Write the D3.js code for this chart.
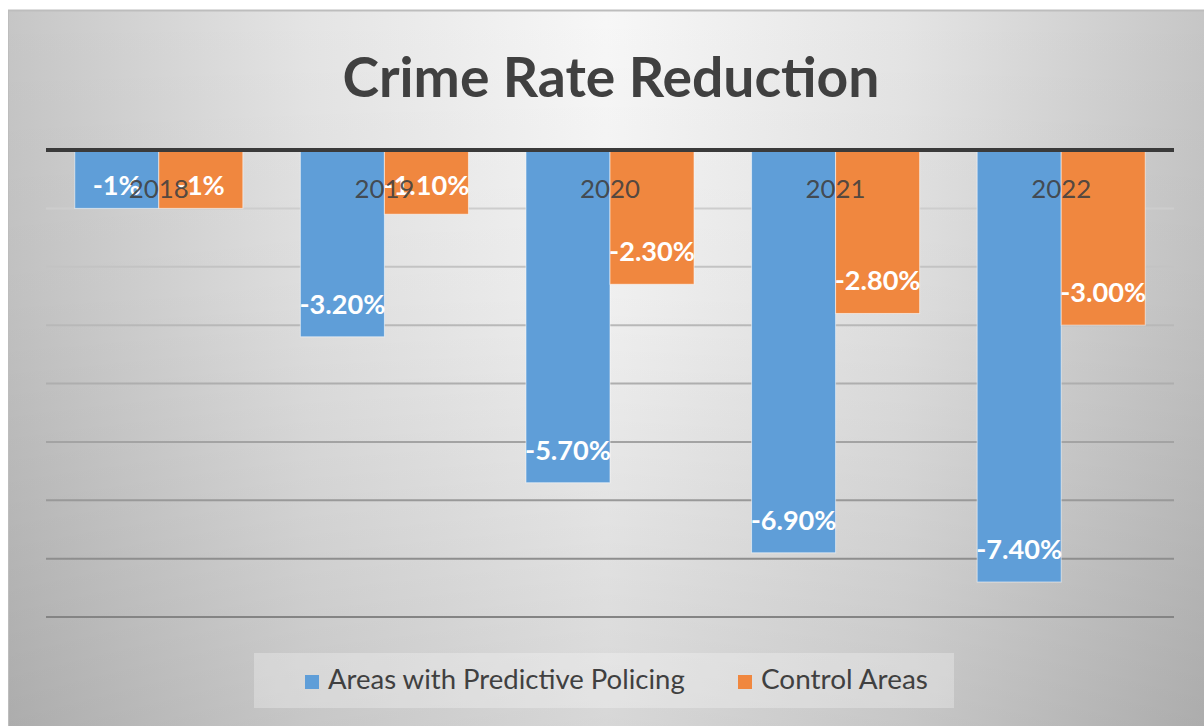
<!DOCTYPE html>
<html>
<head>
<meta charset="utf-8">
<script src="https://cdn.jsdelivr.net/npm/d3@7"></script>
<style>
  html, body { margin: 0; padding: 0; background: #fff; }
  svg { display: block; }
</style>
</head>
<body>
<svg id="chart" width="1204" height="726"></svg>
<script>
var years = ['2018', '2019', '2020', '2021', '2022'];
var seriesNames = ['Areas with Predictive Policing', 'Control Areas'];
var predictive = [-1, -3.2, -5.7, -6.9, -7.4];
var control = [-1, -1.1, -2.3, -2.8, -3.0];
var labelsPredictive = ['-1%', '-3.20%', '-5.70%', '-6.90%', '-7.40%'];
var labelsControl = ['-1%', '-1.10%', '-2.30%', '-2.80%', '-3.00%'];
var yTicks = [0, -1, -2, -3, -4, -5, -6, -7, -8];

var colors = ['#5f9ed8', '#f0873f'];
var textColor = '#404040';

var svg = d3.select('#chart');
var W = 1204, H = 726;

// fit a text node to a width by changing font-size
function fitWidth(sel, target) {
  sel.each(function() {
    var node = this;
    var fs = parseFloat(d3.select(node).style('font-size'));
    var w = node.getComputedTextLength();
    if (w > 0) d3.select(node).style('font-size', (fs * target / w) + 'px');
  });
}

var defs = svg.append('defs');
var hg = defs.append('linearGradient').attr('id', 'bgH')
  .attr('x1', '0').attr('x2', '1').attr('y1', '0').attr('y2', '0');
hg.append('stop').attr('offset', '0').attr('stop-color', '#c6c6c6');
hg.append('stop').attr('offset', '0.25').attr('stop-color', '#e4e4e4');
hg.append('stop').attr('offset', '0.5').attr('stop-color', '#f7f7f7');
hg.append('stop').attr('offset', '0.75').attr('stop-color', '#e4e4e4');
hg.append('stop').attr('offset', '1').attr('stop-color', '#c6c6c6');
var vg = defs.append('linearGradient').attr('id', 'bgV')
  .attr('x1', '0').attr('x2', '0').attr('y1', '0').attr('y2', '1');
vg.append('stop').attr('offset', '0').attr('stop-color', '#000').attr('stop-opacity', 0);
vg.append('stop').attr('offset', '0.4').attr('stop-color', '#000').attr('stop-opacity', 0.03);
vg.append('stop').attr('offset', '1').attr('stop-color', '#000').attr('stop-opacity', 0.13);

svg.append('rect').attr('x', 8).attr('y', 10).attr('width', W - 8).attr('height', H - 10)
  .attr('fill', 'url(#bgH)');
svg.append('rect').attr('x', 8).attr('y', 10).attr('width', W - 8).attr('height', H - 10)
  .attr('fill', 'url(#bgV)');
svg.append('line').attr('x1', 8).attr('x2', W).attr('y1', 10.5).attr('y2', 10.5)
  .attr('stroke', '#bdbdbd').attr('stroke-width', 2);
svg.append('line').attr('x1', 8.5).attr('x2', 8.5).attr('y1', 10).attr('y2', H)
  .attr('stroke', '#bdbdbd').attr('stroke-width', 1);

var x0 = d3.scaleBand().domain(years).range([46, 1174])
  .paddingInner(0.255).paddingOuter(0.1275);
var x1 = d3.scaleBand().domain([0, 1]).range([0, x0.bandwidth()]);
var y = d3.scaleLinear().domain([-8, 0]).range([617, 150]);

// gridlines
var gridColor = d3.scaleLinear().domain([208, 617]).range(['#cdcdcd', '#848484']);
svg.append('g').selectAll('line').data(yTicks.filter(function(d) { return d < 0; }))
  .join('line')
  .attr('x1', 46).attr('x2', 1174)
  .attr('y1', function(d) { return y(d); }).attr('y2', function(d) { return y(d); })
  .attr('stroke', function(d) { return gridColor(y(d)); })
  .attr('stroke-width', 2);

// bars
var rows = years.map(function(yr, i) {
  return { year: yr, values: [predictive[i], control[i]], labels: [labelsPredictive[i], labelsControl[i]] };
});

var groups = svg.append('g').selectAll('g').data(rows).join('g')
  .attr('transform', function(d) { return 'translate(' + x0(d.year) + ',0)'; });

groups.selectAll('rect').data(function(d) { return d.values; }).join('rect')
  .attr('x', function(d, i) { return x1(i); })
  .attr('y', y(0))
  .attr('width', x1.bandwidth())
  .attr('height', function(d) { return y(d) - y(0); })
  .attr('fill', function(d, i) { return colors[i]; })
  .attr('stroke', '#ffffff').attr('stroke-opacity', 0.55).attr('stroke-width', 1);

// axis line
svg.append('line').attr('x1', 46).attr('x2', 1174).attr('y1', y(0)).attr('y2', y(0))
  .attr('stroke', '#3a3a3a').attr('stroke-width', 4);

// data labels
var valLabels = groups.selectAll('text.val').data(function(d) {
    return d.values.map(function(v, i) { return { v: v, label: d.labels[i], i: i }; });
  }).join('text')
  .attr('class', 'val')
  .attr('x', function(d) { return x1(d.i) + x1.bandwidth() / 2; })
  .attr('y', function(d) { return Math.max(y(d.v) - 23, y(0) + 45); })
  .attr('text-anchor', 'middle')
  .style('font-family', 'Lato, "Open Sans", sans-serif')
  .style('font-weight', 'bold')
  .style('font-size', '24px')
  .attr('fill', '#ffffff')
  .text(function(d) { return d.label; });

// one size for all value labels, taken from a "-3.20%" label
var probe = valLabels.filter(function(d) { return d.label === '-3.20%'; });
probe.call(fitWidth, 86);
valLabels.style('font-size', probe.style('font-size'));

// category labels (drawn on top, just below the axis)
svg.append('g').selectAll('text').data(years).join('text')
  .attr('x', function(d) { return x0(d) + x0.bandwidth() / 2; })
  .attr('y', 198)
  .attr('text-anchor', 'middle')
  .style('font-family', 'Lato, "Open Sans", sans-serif')
  .style('font-size', '25px')
  .attr('fill', textColor)
  .attr('fill-opacity', 0.9)
  .text(function(d) { return d; })
  .call(fitWidth, 60);

// title
svg.append('text').attr('x', 611).attr('y', 97)
  .attr('text-anchor', 'middle')
  .style('font-family', 'Lato, "Open Sans", sans-serif')
  .style('font-weight', 'bold')
  .style('font-size', '52px')
  .attr('fill', textColor)
  .text('Crime Rate Reduction')
  .call(fitWidth, 537);

// legend
svg.append('rect').attr('x', 254).attr('y', 653).attr('width', 700).attr('height', 55)
  .attr('fill', '#ffffff').attr('fill-opacity', 0.28);
var legendX = [305, 738];
var legendW = [357, 167];
var lg = svg.append('g').selectAll('g').data(seriesNames).join('g')
  .attr('transform', function(d, i) { return 'translate(' + legendX[i] + ',0)'; });
lg.append('rect').attr('x', 0).attr('y', 675).attr('width', 14).attr('height', 14)
  .attr('fill', function(d, i) { return colors[i]; });
lg.append('text').attr('x', 23).attr('y', 689)
  .style('font-family', 'Lato, "Open Sans", sans-serif')
  .style('font-size', '26px')
  .attr('fill', textColor)
  .text(function(d) { return d; })
  .each(function(d, i) { d3.select(this).call(fitWidth, legendW[i]); });
</script>
</body>
</html>
